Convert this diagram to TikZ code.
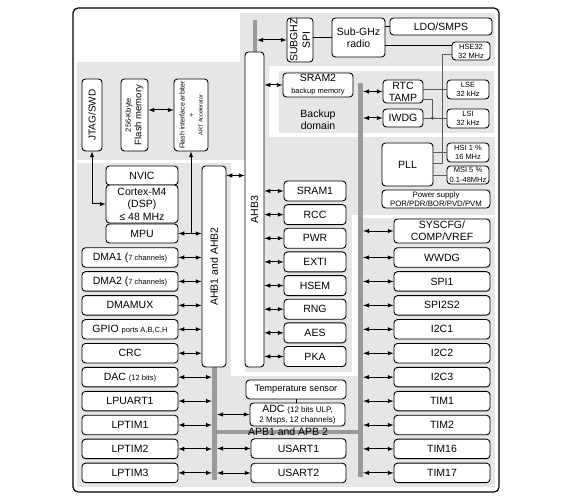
\documentclass[tikz,border=0pt]{standalone}
\usepackage{fontspec}
\setmainfont{Liberation Sans}
\usetikzlibrary{arrows}
\definecolor{bggray}{RGB}{230,230,230}
\definecolor{busgray}{RGB}{154,154,154}
\definecolor{clkgray}{RGB}{90,90,90}
\newcommand\smtxt[1]{{\fontsize{7.5}{9}\selectfont #1}}
\tikzset{
blk/.style={draw, fill=white, rounded corners=3.5pt, line width=0.9pt, inner sep=0pt, align=center, font=\fontsize{10.5}{12.5}\selectfont},
clkbox/.style={minimum width=42pt, minimum height=19pt, font=\fontsize{7.5}{9.5}\selectfont},
bus/.style={fill=busgray, inner sep=0pt},
lnk/.style={<->, >=latex, line width=1pt},
clk/.style={draw=clkgray, line width=0.8pt}
}

\begin{document}
\begin{tikzpicture}[x=1pt, y=-1pt]
\useasboundingbox (0,0) rectangle (568,500);

% background areas
\fill[bggray] (77,13) rectangle (495,487);
\fill[white] (77,13) rectangle (240,62);
\fill[white] (77,160) rectangle (245,163);
\fill[white] (231,160) rectangle (245,376);
\fill[white] (231,372) rectangle (357,376);
\fill[white] (352,215) rectangle (358,376);
\fill[white] (352,215) rectangle (495,218);
\fill[white] (269,66) rectangle (495,137);
\fill[bggray] (279,71) rectangle (494,133);
\draw[line width=1.2pt, rounded corners=5pt] (73,8) rectangle (499,492);

% buses
\node[bus, minimum width=4pt, minimum height=32pt] (subbus) at (255,36) {};
\node[bus, minimum width=5pt, minimum height=113pt] (ahbbus) at (214.5,423.5) {};
\node[bus, minimum width=5pt, minimum height=394pt] (apbbus) at (360.5,280) {};
\node[bus, minimum width=151pt, minimum height=4pt] (apbh) at (287.5,432) {};
\node[inner sep=0pt, font=\fontsize{10.5}{12}\selectfont] (apblbl) at (288,432) {APB1 and APB 2};

\node[blk, rotate=90, minimum width=315pt, minimum height=19pt] (ahb3) at (254.5,209.5) {AHB3};
\node[blk, rotate=90, minimum width=201pt, minimum height=24pt] (ahb12) at (214,266.5) {AHB1 and AHB2};

% flash and debug
\node[blk, rotate=90, minimum width=72pt, minimum height=20pt, font=\fontsize{10}{12}\selectfont] (jtag) at (92,115) {JTAG/SWD};
\node[blk, rotate=90, minimum width=72pt, minimum height=27pt, font=\fontsize{9.5}{10.5}\selectfont] (flash) at (134.5,115) {\smtxt{256-Kbyte}\\Flash memory};
\node[blk, rotate=90, minimum width=72pt, minimum height=34pt, font=\fontsize{7}{9}\selectfont] (flashif) at (191,115) {Flash interface arbiter\\+\\{\fontsize{5.5}{9}\selectfont ART Accelerator}};

% cpu
\node[blk, minimum width=72pt, minimum height=19pt] (nvic) at (142,175.5) {NVIC};
\node[blk, minimum width=72pt, minimum height=38pt] (cortex) at (142,204) {Cortex-M4\\(DSP)\\≤ 48 MHz};
\node[blk, minimum width=72pt, minimum height=19pt] (mpu) at (142,233.5) {MPU};

\draw[lnk] (cortex.west) -| (jtag.west);
\draw[lnk] (mpu.east) -- (mpu.east -| ahb12.north);
\draw[lnk, ->] (mpu.east -| flashif.west) -- (flashif.west);
\draw[lnk] ([yshift=5pt]flash.south) -- ([yshift=5pt]flashif.north);
\draw[lnk] (nvic.east -| ahb12.south) -- (nvic.east -| ahb3.north);

% left column
\foreach \nm/\lbl [count=\i from 0] in {dmaa/{DMA1 (\smtxt{7 channels)}}, dmab/{DMA2 (\smtxt{7 channels)}}, dmamux/DMAMUX, gpio/{GPIO \smtxt{ports A,B,C,H}}, crc/CRC, dac/{DAC \smtxt{(12 bits)}}, lpuart/LPUART1, lptima/LPTIM1, lptimb/LPTIM2, lptimc/LPTIM3} {
\pgfmathsetmacro{\yy}{257.5 + 23.93*\i}
\node[blk, minimum width=96pt, minimum height=19.5pt] (\nm) at (130,\yy) {\lbl};
}
\foreach \nm in {dmaa,dmab,dmamux,gpio,crc}
\draw[lnk] (\nm.east) -- (\nm.east -| ahb12.north);
\foreach \nm in {dac,lpuart,lptima,lptimb,lptimc}
\draw[lnk] (\nm.east) -- (\nm.east -| ahbbus.west);

% AHB3 peripherals
\foreach \nm [count=\i from 0] in {SRAM1,RCC,PWR,EXTI,HSEM,RNG,AES,PKA} {
\pgfmathsetmacro{\yy}{191 + 23.64*\i}
\node[blk, minimum width=62pt, minimum height=20pt] (\nm) at (315,\yy) {\nm};
\draw[lnk] (\nm.west -| ahb3.south) -- (\nm.west);
}

% APB peripherals
\node[blk, minimum width=96pt, minimum height=24pt, font=\fontsize{10.5}{12}\selectfont] (syscfg) at (442,231) {SYSCFG/\\COMP/VREF};
\draw[lnk] (syscfg.west -| apbbus.east) -- (syscfg.west);
\foreach \nm [count=\i from 0] in {WWDG,SPI1,SPI2S2,I2C1,I2C2,I2C3,TIM1,TIM2,TIM16,TIM17} {
\pgfmathsetmacro{\yy}{257.5 + 23.93*\i}
\node[blk, minimum width=96pt, minimum height=19.5pt] (\nm) at (442,\yy) {\nm};
\draw[lnk] (\nm.west -| apbbus.east) -- (\nm.west);
}

% analog and usart
\node[blk, minimum width=100pt, minimum height=19pt, font=\fontsize{9.3}{11}\selectfont] (temp) at (296,389.5) {Temperature sensor};
\node[blk, minimum width=95pt, minimum height=23pt, font=\fontsize{10.5}{10.5}\selectfont] (adc) at (297.5,414.5) {ADC {\fontsize{8}{9}\selectfont (12 bits ULP,}\\{\fontsize{8}{9}\selectfont 2 Msps, 12 channels)}};
\node[blk, minimum width=95pt, minimum height=19.5pt] (usarta) at (298.5,448.5) {USART1};
\node[blk, minimum width=95pt, minimum height=19.5pt] (usartb) at (298.5,473) {USART2};
\draw[line width=0.8pt] (temp.south) -- (temp.south |- adc.north);
\foreach \nm in {adc,usarta,usartb}
\draw[lnk] (\nm.west -| ahbbus.east) -- (\nm.west);

% radio
\node[blk, rotate=90, minimum width=44pt, minimum height=26pt] (subspi) at (300,40) {SUBGHZ\\SPI};
\node[blk, minimum width=53pt, minimum height=39pt, font=\fontsize{10.5}{12}\selectfont] (radio) at (358.5,37.5) {Sub-GHz\\radio};
\node[blk, minimum width=102pt, minimum height=17pt] (ldo) at (441,26.5) {LDO/SMPS};
\node[blk, minimum width=38pt, minimum height=18pt, font=\fontsize{7.5}{9}\selectfont] (hse) at (471,51) {HSE32\\32 MHz};
\draw[lnk] (subspi.north -| subbus.east) -- (subspi.north);
\draw[line width=0.8pt] (radio.west) -- (radio.west -| subspi.south);
\draw[line width=0.8pt] (ldo.west) -- (ldo.west -| radio.east);
\draw[line width=0.8pt] ([yshift=-7.5pt]radio.east) -- ([yshift=-7.5pt]radio.east -| hse.west);

% backup domain
\node[blk, minimum width=70pt, minimum height=24pt, font=\fontsize{10.5}{12}\selectfont] (sram2) at (318,85) {SRAM2\\\smtxt{backup memory}};
\node[align=center, font=\fontsize{10.5}{12.5}\selectfont] (bkdom) at (318,119.5) {Backup\\domain};
\node[blk, minimum width=40pt, minimum height=23pt, font=\fontsize{10.5}{12}\selectfont] (rtc) at (403,91.5) {RTC\\TAMP};
\node[blk, minimum width=40pt, minimum height=18pt] (iwdg) at (403,118) {IWDG};
\node[blk, clkbox] (lse) at (468,89.5) {LSE\\32 kHz};
\node[blk, clkbox] (lsi) at (468,118.5) {LSI\\32 kHz};
\draw[lnk] (sram2.west -| ahb3.south) -- (sram2.west);
\draw[lnk] (rtc.west -| apbbus.east) -- (rtc.west);
\draw[lnk] (iwdg.west -| apbbus.east) -- (iwdg.west);

% clocks
\node[blk, minimum width=51pt, minimum height=43pt] (pll) at (407.5,164.5) {PLL};
\node[blk, clkbox] (hsi) at (468,152.5) {HSI 1 \%\\16 MHz};
\node[blk, clkbox, minimum height=18pt] (msi) at (468,175) {MSI 5 \%\\0.1-48MHz};
\node[blk, minimum width=108pt, minimum height=18pt, font=\fontsize{7.8}{9}\selectfont] (psupply) at (436,199) {Power supply\\POR/PDR/BOR/PVD/PVM};

\coordinate (tampj) at ([xshift=9pt]iwdg.east);
\coordinate (hsebend) at (442,163);
\draw[clk] (rtc.east |- lse.west) -- (lse.west);
\draw[clk] ([yshift=-7.5pt]rtc.east) -| (tampj);
\draw[clk] (iwdg.east) -- (iwdg.east -| lsi.west);
\fill[clkgray] (tampj) circle (1.8pt);
\draw[clk] ([yshift=-3pt]hse.west) -| (hsebend) -- (hsebend -| pll.east);
\draw[clk] (hsi.west) -- (hsi.west -| pll.east);
\draw[clk] (msi.west) -- (msi.west -| pll.east);

\end{tikzpicture}
\end{document}
